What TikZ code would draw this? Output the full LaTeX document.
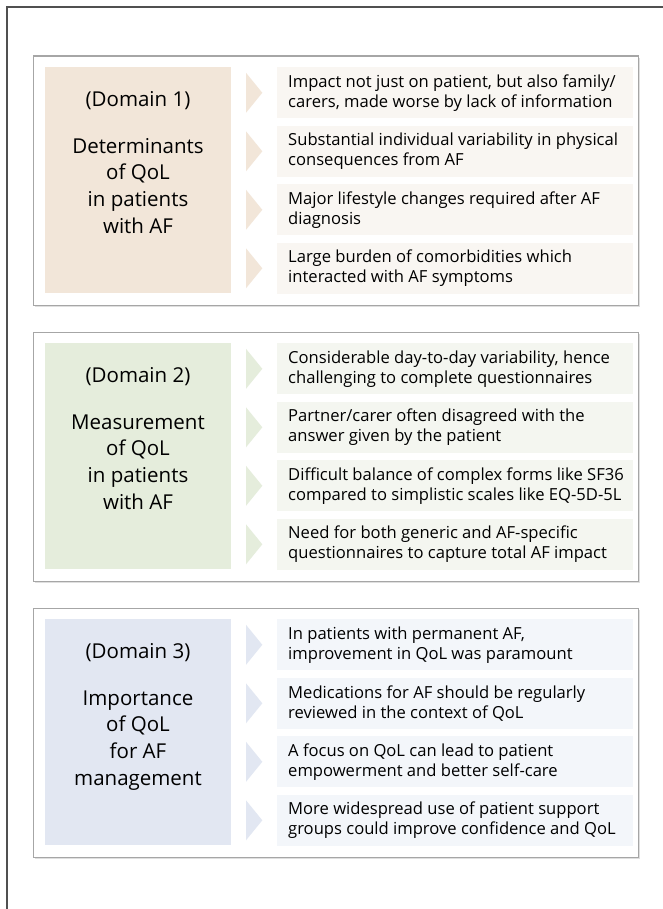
\documentclass[tikz,border=0pt]{standalone}
\usepackage{fontspec}
\setmainfont{Open Sans}
\usetikzlibrary{shadows}
\definecolor{framecol}{HTML}{505050}
\definecolor{panelcol}{HTML}{A6A6A6}
\definecolor{domA}{HTML}{F2E6D9}
\definecolor{itemA}{HTML}{F9F6F2}
\definecolor{domB}{HTML}{E5EDDC}
\definecolor{itemB}{HTML}{F4F6F0}
\definecolor{domC}{HTML}{E2E7F2}
\definecolor{itemC}{HTML}{F3F6FA}
\tikzset{
  panelbox/.style={draw=panelcol, line width=1.6pt, fill=white, minimum width=605pt, minimum height=249pt, inner sep=0pt,
    drop shadow={opacity=0.25, shadow xshift=2pt, shadow yshift=-2pt}},
  dombox/.style={inner sep=0pt, minimum width=186pt, minimum height=225.4pt},
  domtext/.style={font=\fontsize{20.5}{26.7}\selectfont, align=center, inner sep=0pt, text=black},
  itembox/.style={inner sep=0pt, minimum width=356.6pt, minimum height=51pt},
  itemtext/.style={inner sep=0pt, align=left, font=\fontsize{16.6}{20}\selectfont, text=black, anchor=west},
}
% #1 prefix, #2 top of domain box, #3 domain colour, #4 item colour, #5 domain number, #6 title lines, #7 items
\newcommand\qolpanel[7]{%
  \node[panelbox] (#1panel) at (335.8,{#2+113.5}) {};
  \node[dombox, fill=#3] (#1dom) at (138,{#2+112.7}) {};
  \node[domtext, anchor=base] (#1num) at (138,{#2+39.5}) {(Domain #5)};
  \node[domtext, anchor=base] (#1title) at (138,{#2+166}) {#6};
  \foreach \txt [count=\i from 0] in {#7} {
    \node[itembox, fill=#4] (#1item\i) at (455,{#2+25.5+58.5*\i}) {};
    \node[itemtext] (#1itemtext\i) at ([xshift=11.5pt]#1item\i.west) {\txt};
    \fill[#3] (246,{#2+5.5+58.5*\i}) -- (262.3,{#2+25.5+58.5*\i}) -- (246,{#2+45.5+58.5*\i}) -- cycle;
  }
}
\begin{document}
\begin{tikzpicture}[x=1pt,y=-1pt]
\useasboundingbox (0,0) rectangle (662,909);
\fill[white] (0,0) rectangle (662,909);
\draw[framecol, line width=1.2pt] (7,940) -- (7,7) -- (700,7);
\qolpanel{a}{67.3}{domA}{itemA}{1}{Determinants\\of QoL\\in patients\\with AF}{%
  {Impact not just on patient, but also family/\\carers, made worse by lack of information},
  {Substantial individual variability in physical\\consequences from AF},
  {Major lifestyle changes required after AF\\diagnosis},
  {Large burden of comorbidities which\\interacted with AF symptoms}}
\qolpanel{b}{343.3}{domB}{itemB}{2}{Measurement\\of QoL\\in patients\\with AF}{%
  {Considerable day-to-day variability, hence\\challenging to complete questionnaires},
  {Partner/carer often disagreed with the\\answer given by the patient},
  {Difficult balance of complex forms like SF36\\compared to simplistic scales like EQ-5D-5L},
  {Need for both generic and AF-specific\\questionnaires to capture total AF impact}}
\qolpanel{c}{619.3}{domC}{itemC}{3}{Importance\\of QoL\\for AF\\management}{%
  {In patients with permanent AF,\\improvement in QoL was paramount},
  {Medications for AF should be regularly\\reviewed in the context of QoL},
  {A focus on QoL can lead to patient\\empowerment and better self-care},
  {More widespread use of patient support\\groups could improve confidence and QoL}}
\end{tikzpicture}
\end{document}
